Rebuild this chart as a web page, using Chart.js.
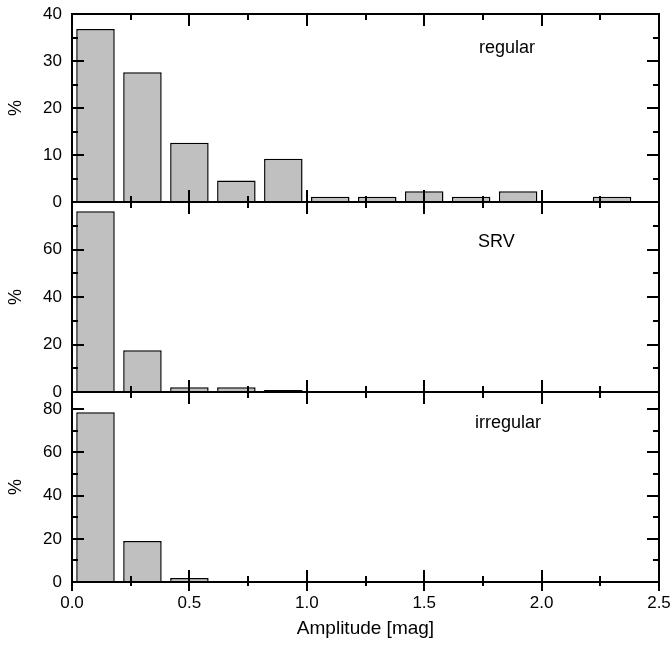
<!DOCTYPE html>
<html>
<head>
<meta charset="utf-8">
<script src="https://cdn.jsdelivr.net/npm/chart.js@4/dist/chart.umd.min.js"></script>
<style>
  html, body { margin: 0; padding: 0; background: #fff; }
  #wrap { position: relative; width: 671px; height: 652px; overflow: hidden; }
  canvas { position: absolute; left: 0; }
</style>
</head>
<body>
<div id="wrap">
  <canvas id="c1" width="671" height="214" style="top:0px"></canvas>
  <canvas id="c2" width="671" height="214" style="top:190px"></canvas>
  <canvas id="c3" width="671" height="272" style="top:380px"></canvas>
</div>
<script>
// bin centres of the amplitude histogram [mag]
const binCenters = [0.1, 0.3, 0.5, 0.7, 0.9, 1.1, 1.3, 1.5, 1.7, 1.9, 2.1, 2.3];
// percentage of stars per bin
const regularPct   = [36.8, 27.6, 12.6, 4.6, 9.2, 1.1, 1.1, 2.3, 1.1, 2.3, 0, 1.1];
const srvPct       = [76.1, 17.6, 2.0, 2.0, 0.8, 0, 0.3, 0, 0, 0, 0, 0];
const irregularPct = [78.6, 19.0, 1.9, 0, 0, 0, 0, 0, 0, 0, 0, 0];

const xTicks = [0.0, 0.5, 1.0, 1.5, 2.0, 2.5];
const regularTicks = [0, 10, 20, 30, 40];
const srvTicks = [0, 20, 40, 60];
const irregularTicks = [0, 20, 40, 60, 80];

Chart.defaults.font.family = '"Liberation Sans", Arial, sans-serif';
Chart.defaults.color = '#000';

// box frame with inward major/minor ticks on all four sides
const framePlugin = {
  id: 'frame',
  afterDatasetsDraw(chart, args, opts) {
    const { ctx, chartArea: a, scales: { x, y } } = chart;
    ctx.save();
    ctx.strokeStyle = '#000';
    ctx.lineWidth = 2;
    ctx.lineCap = 'butt';
    const line = (x1, y1, x2, y2) => { ctx.beginPath(); ctx.moveTo(x1, y1); ctx.lineTo(x2, y2); ctx.stroke(); };

    for (let v = x.min; v <= x.max + 1e-9; v += 0.25) {
      const major = Math.abs(v / 0.5 - Math.round(v / 0.5)) < 1e-6;
      const len = major ? 12 : 6;
      const px = Math.round(x.getPixelForValue(v));
      line(px, a.bottom, px, a.bottom - len);
      line(px, a.top, px, a.top + len);
      if (opts.outTicks) line(px, a.bottom, px, a.bottom + (major ? 9 : 4));
    }
    for (let v = 0; v <= y.max + 1e-9; v += opts.minor) {
      const major = Math.abs(v / (2 * opts.minor) - Math.round(v / (2 * opts.minor))) < 1e-6;
      const len = major ? 12 : 6;
      const py = Math.round(y.getPixelForValue(v));
      line(a.left, py, a.left + len, py);
      line(a.right, py, a.right - len, py);
    }
    ctx.strokeRect(a.left, a.top, a.right - a.left, a.bottom - a.top);

    ctx.font = '18px "Liberation Sans", Arial, sans-serif';
    ctx.fillStyle = '#000';
    ctx.textAlign = 'left';
    ctx.textBaseline = 'alphabetic';
    ctx.fillText(opts.label, opts.labelX, a.top + opts.labelDy);
    ctx.restore();
  }
};

function makePanel(id, values, yTicks, yMax, minor, label, labelX, labelDy, bottomPanel) {
  const padTop = bottomPanel ? 12 : (id === 'c1' ? 14 : 12);
  new Chart(document.getElementById(id), {
    type: 'bar',
    data: {
      datasets: [{
        data: binCenters.map((c, i) => ({ x: c, y: values[i] })),
        backgroundColor: '#c0c0c0',
        borderColor: '#000',
        borderWidth: 1.5,
        barPercentage: 0.82,
        categoryPercentage: 1.0
      }]
    },
    options: {
      responsive: false,
      animation: false,
      layout: { padding: { top: padTop, right: 12, bottom: bottomPanel ? 0 : 12, left: 0 } },
      plugins: {
        legend: { display: false },
        tooltip: { enabled: false },
        frame: { minor: minor, outTicks: bottomPanel, label: label, labelX: labelX, labelDy: labelDy }
      },
      scales: {
        x: {
          type: 'linear',
          min: 0,
          max: 2.5,
          offset: false,
          display: bottomPanel,
          grid: { display: false, drawTicks: false },
          border: { display: false },
          afterBuildTicks: s => { s.ticks = xTicks.map(v => ({ value: v })); },
          afterFit: s => {
            if (bottomPanel) s.height = 70;
            s.paddingLeft = 0;
            s.paddingRight = 0;
          },
          ticks: {
            padding: 11,
            font: { size: 17 },
            maxRotation: 0,
            callback: v => Number(v).toFixed(1)
          },
          title: {
            display: true,
            text: 'Amplitude [mag]',
            font: { size: 19 },
            padding: { top: 0, bottom: 12 }
          }
        },
        y: {
          min: 0,
          max: yMax,
          grid: { display: false, drawTicks: false },
          border: { display: false },
          afterBuildTicks: s => { s.ticks = yTicks.map(v => ({ value: v })); },
          afterFit: s => {
            s.width = 72;
            s.paddingTop = 0;
            s.paddingBottom = 0;
          },
          ticks: { padding: 10, font: { size: 17 } },
          title: {
            display: true,
            text: '%',
            font: { size: 18 },
            padding: { top: 5, bottom: 0 }
          }
        }
      }
    },
    plugins: [framePlugin]
  });
}

makePanel('c1', regularPct, regularTicks, 40, 5, 'regular', 479, 39, false);
makePanel('c2', srvPct, srvTicks, 80, 10, 'SRV', 478, 45, false);
makePanel('c3', irregularPct, irregularTicks, 88, 10, 'irregular', 475, 36, true);
</script>
</body>
</html>
